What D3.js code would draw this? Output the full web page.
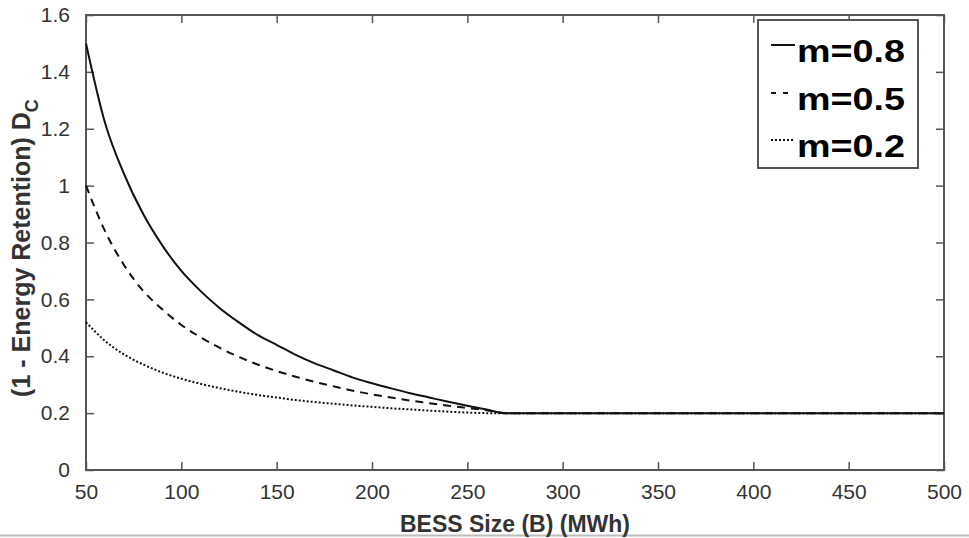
<!DOCTYPE html>
<html><head><meta charset="utf-8">
<script src="https://cdn.jsdelivr.net/npm/d3@7"></script>
<style>body{margin:0;background:#fff}svg{display:block}</style>
</head><body>
<svg id="c" width="969" height="538"></svg>
<script>
// Data
const bessSize = [50,60,70,80,90,100,110,120,130,140,150,160,170,180,190,200,210,220,230,240,250,260,270,500];
const m08 = [1.50,1.22,1.04,0.90,0.79,0.70,0.63,0.57,0.52,0.475,0.44,0.405,0.375,0.35,0.325,0.305,0.287,0.27,0.255,0.24,0.226,0.213,0.20,0.20];
const m05 = [1.00,0.84,0.72,0.63,0.565,0.51,0.467,0.43,0.398,0.371,0.348,0.328,0.31,0.294,0.279,0.266,0.255,0.244,0.235,0.226,0.218,0.21,0.20,0.20];
const m02 = [0.52,0.454,0.406,0.371,0.343,0.321,0.303,0.288,0.275,0.264,0.255,0.246,0.239,0.233,0.227,0.222,0.217,0.213,0.209,0.205,0.202,0.200,0.20,0.20];
const seriesNames = ["m=0.8","m=0.5","m=0.2"];
const xTicks = [50,100,150,200,250,300,350,400,450,500];
const yTicks = [0,0.2,0.4,0.6,0.8,1,1.2,1.4,1.6];

const svg = d3.select("#c");
const L=86,R=944,T=15,B=470;
const x = d3.scaleLinear().domain([50,500]).range([L,R]);
const y = d3.scaleLinear().domain([0,1.6]).range([B,T]);
const axisColor="#555";
const font="Arial, 'Liberation Sans', Helvetica, sans-serif";

// bottom border line of image
svg.append("line").attr("x1",0).attr("x2",969).attr("y1",535.5).attr("y2",535.5)
  .attr("stroke","#bdbdbd").attr("stroke-width",2);

// axes
function styleAxis(g){
  g.select(".domain").remove();
  g.selectAll(".tick line").attr("stroke",axisColor).attr("stroke-width",1.5);
  g.selectAll(".tick text").attr("fill","#333").style("font-family",font).style("font-size","21px");
}
const fmt = d=> d===0?"0":String(+d.toFixed(1));
svg.append("g").attr("transform",`translate(0,${B})`)
  .call(d3.axisBottom(x).tickValues(xTicks).tickSizeInner(-8).tickSizeOuter(0).tickPadding(14).tickFormat(d3.format("d")))
  .call(styleAxis);
svg.append("g").attr("transform",`translate(0,${T})`)
  .call(d3.axisTop(x).tickValues(xTicks).tickSizeInner(-8).tickSizeOuter(0).tickFormat(""))
  .call(styleAxis);
svg.append("g").attr("transform",`translate(${L},0)`)
  .call(d3.axisLeft(y).tickValues(yTicks).tickSizeInner(-8).tickSizeOuter(0).tickPadding(16).tickFormat(fmt))
  .call(styleAxis);
svg.append("g").attr("transform",`translate(${R},0)`)
  .call(d3.axisRight(y).tickValues(yTicks).tickSizeInner(-8).tickSizeOuter(0).tickFormat(""))
  .call(styleAxis);
svg.append("rect").attr("x",L).attr("y",T).attr("width",R-L).attr("height",B-T)
  .attr("fill","none").attr("stroke",axisColor).attr("stroke-width",2);

// series
const dashes = ["none","8,6","2,2"];
const data = [m08,m05,m02];
const line = d3.line().x((d,i)=>x(bessSize[i])).y(d=>y(d)).curve(d3.curveMonotoneX);
// draw dotted, dashed first, solid on top
[2,1,0].forEach(k=>{
  svg.append("path").datum(data[k]).attr("d",line).attr("fill","none")
    .attr("stroke","#111").attr("stroke-width",2)
    .attr("stroke-dasharray",dashes[k]);
});

// legend
const lg = svg.append("g");
lg.append("rect").attr("x",758).attr("y",20).attr("width",160).attr("height",148)
  .attr("fill","#fff").attr("stroke","#444").attr("stroke-width",1.8);
const rowY=[62,110,157];
const legDash=["none","5,7","2,2"];
seriesNames.forEach((n,i)=>{
  lg.append("line").attr("x1",771).attr("x2",795).attr("y1",rowY[i]-17).attr("y2",rowY[i]-17)
    .attr("stroke","#111").attr("stroke-width",2).attr("stroke-dasharray",legDash[i]);
  lg.append("text").attr("x",797).attr("y",rowY[i]).text(n)
    .attr("textLength",108).attr("lengthAdjust","spacingAndGlyphs")
    .style("font-family",font).style("font-weight","bold").style("font-size","32px").attr("fill","#000");
});

// axis labels
svg.append("text").attr("x",515).attr("y",532).attr("text-anchor","middle")
  .style("font-family",font).style("font-weight","bold").style("font-size","23px").attr("fill","#333")
  .text("BESS Size (B) (MWh)");
const yl = svg.append("text").attr("transform","translate(30,248) rotate(-90)").attr("text-anchor","middle")
  .style("font-family",font).style("font-weight","bold").style("font-size","25px").attr("fill","#333");
yl.append("tspan").text("(1 - Energy Retention) D");
yl.append("tspan").attr("dy",8).style("font-size","18px").text("C");
</script>
</body></html>
